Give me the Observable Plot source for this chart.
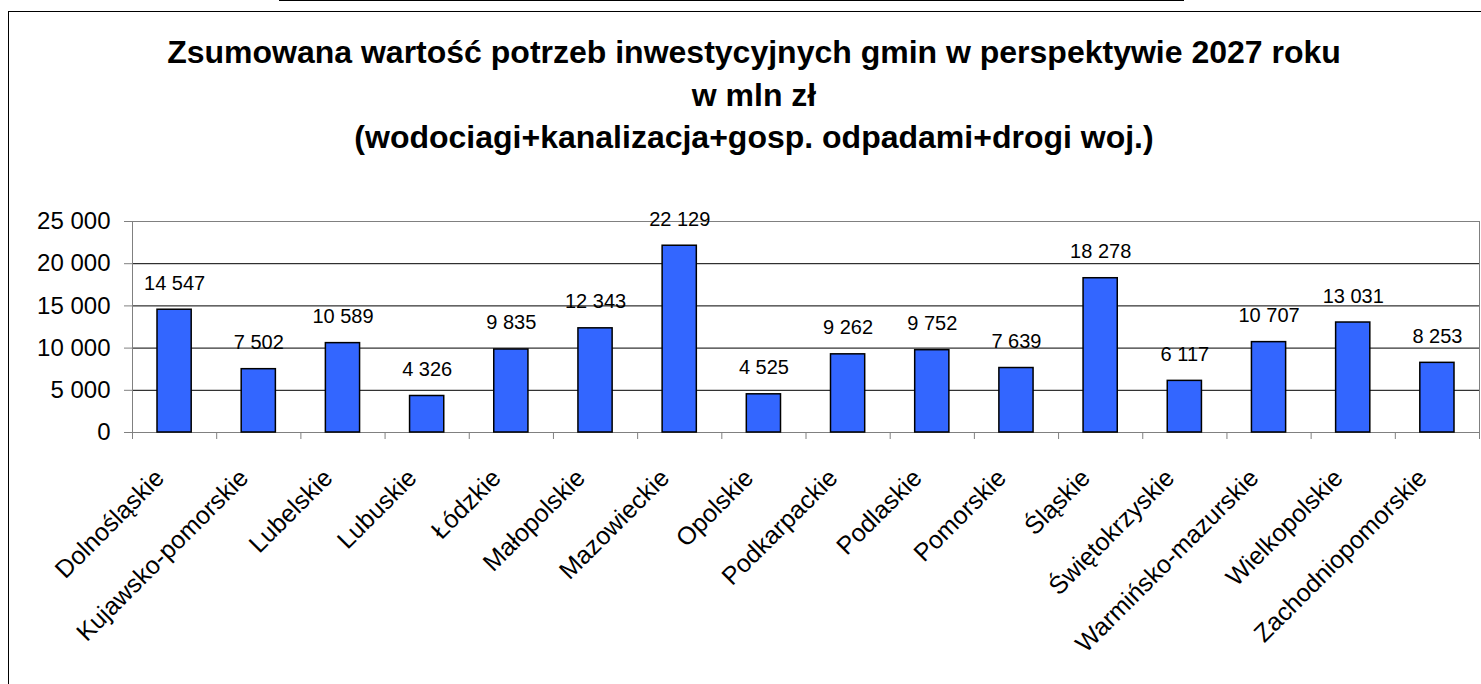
<!DOCTYPE html>
<html><head><meta charset="utf-8">
<script src="https://cdn.jsdelivr.net/npm/d3@7"></script>
<script src="https://cdn.jsdelivr.net/npm/@observablehq/plot@0.6"></script>
<style>
html,body{margin:0;padding:0;background:#fff;overflow:hidden;}
body{width:1481px;height:684px;position:relative;font-family:"Liberation Sans",Arial,sans-serif;color:#000;}
#topline{position:absolute;left:279px;top:0;width:905px;height:1px;background:#000;}
#frame{position:absolute;left:8px;top:11px;width:1520px;height:720px;border:1px solid #000;box-sizing:border-box;}
.t{position:absolute;left:0;width:1508px;text-align:center;font-weight:bold;font-size:32px;line-height:32px;white-space:nowrap;}
#chart{position:absolute;left:0;top:160px;}
</style></head>
<body>
<div id="topline"></div>
<div id="frame"></div>
<div class="t" id="t1"></div>
<div class="t" id="t2"></div>
<div class="t" id="t3"></div>
<div id="chart"></div>
<script>
const titleLines = [
  "Zsumowana wartość potrzeb inwestycyjnych gmin w perspektywie 2027 roku",
  "w mln zł",
  "(wodociagi+kanalizacja+gosp. odpadami+drogi woj.)"
];
const regions = ["Dolnośląskie","Kujawsko-pomorskie","Lubelskie","Lubuskie","Łódzkie","Małopolskie","Mazowieckie","Opolskie","Podkarpackie","Podlaskie","Pomorskie","Śląskie","Świętokrzyskie","Warmińsko-mazurskie","Wielkopolskie","Zachodniopomorskie"];
const values = [14547,7502,10589,4326,9835,12343,22129,4525,9262,9752,7639,18278,6117,10707,13031,8253];
const yTicks = [0,5000,10000,15000,20000,25000];

const tops = [36, 78.5, 121];
titleLines.forEach((s,k)=>{const el=document.getElementById("t"+(k+1)); el.textContent=s; el.style.top=tops[k]+"px";});

const data = regions.map((name,i)=>({name, i, value: values[i]}));
const loc = d3.formatLocale({decimal:",", thousands:" ", grouping:[3], currency:["",""]});
const fmt = loc.format(",d");
const font = '"Liberation Sans", Arial, sans-serif';

const chart = Plot.plot({
  width:1481, height:524,
  marginTop:61, marginLeft:132, marginRight:2, marginBottom:252,
  x:{domain:[0, regions.length], axis:null, label:null},
  y:{domain:[0, 25000], axis:null, label:null},
  style:{fontFamily:font, background:"transparent", color:"#000", overflow:"visible"},
  marks:[
    Plot.gridY(yTicks.slice(1,-1), {stroke:"#000", strokeOpacity:1, strokeWidth:1}),
    Plot.frame({stroke:"#808080", strokeWidth:1}),
    Plot.rectY(data, {x1:"i", x2:d=>d.i+1, y:"value", insetLeft:25, insetRight:25, fill:"#3366FF", stroke:"#000", strokeWidth:1.5}),
    Plot.axisY({ticks:yTicks, tickFormat:fmt, tickSize:8, tickPadding:14, fontSize:24, stroke:"#808080", label:null}),
    Plot.axisX({ticks:d3.range(regions.length+1), tickFormat:()=>"", tickSize:7, stroke:"#808080", label:null}),
    Plot.text(data, {x:d=>d.i+0.5, y:"value", text:d=>fmt(d.value), dy:-20, lineAnchor:"bottom", fontSize:20, fill:"#000"}),
    Plot.text(data, {x:d=>d.i+0.5, y:()=>0, text:"name", rotate:-45, textAnchor:"end", lineAnchor:"bottom", dx:-9, dy:47, fontSize:25, fill:"#000"})
  ]
});
document.getElementById("chart").appendChild(chart);
</script>
</body></html>
